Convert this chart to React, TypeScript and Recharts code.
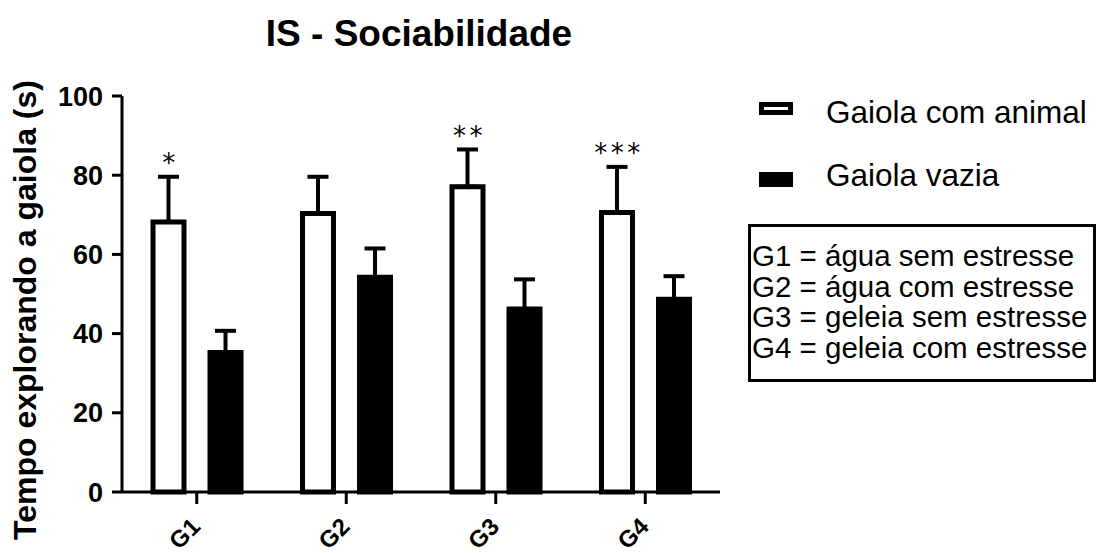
import React from 'react';
import { BarChart, Bar, XAxis, YAxis, ErrorBar, LabelList } from 'recharts';

const FONT = '"Liberation Sans", Arial, sans-serif';

const groups = ['G1', 'G2', 'G3', 'G4'];
const comAnimal = [68.2, 70.3, 77.1, 70.6];
const comAnimalSem = [11.4, 9.3, 9.4, 11.5];
const vazia = [35.2, 54.2, 46.2, 48.7];
const vaziaSem = [5.5, 7.3, 7.5, 5.8];
const stars = ['*', '', '**', '***'];
const yTicks = [0, 20, 40, 60, 80, 100];
const groupNotes = [
  'G1 = água sem estresse',
  'G2 = água com estresse',
  'G3 = geleia sem estresse',
  'G4 = geleia com estresse',
];

const data = groups.map((g, i) => ({
  group: g,
  animal: comAnimal[i],
  animalErr: [0, comAnimalSem[i]],
  vazia: vazia[i],
  vaziaErr: [0, vaziaSem[i]],
  star: stars[i],
}));

// rotated G1..G4 labels under the x axis
const GroupTick = (props: any) => {
  const { x, y, payload } = props;
  const tx = x + 5;
  const ty = y + 24;
  return (
    <text
      x={tx}
      y={ty}
      textAnchor="end"
      transform={`rotate(-45, ${tx}, ${ty})`}
      fontFamily={FONT}
      fontWeight="bold"
      fontSize={24}
      fill="#000"
    >
      {payload.value}
    </text>
  );
};

// significance stars sit a fixed distance above the error cap
const StarLabel = (props: any) => {
  const vb = props.viewBox || props;
  const { x, y, width, height } = vb;
  const i = props.index;
  const txt = stars[i];
  if (!txt) return null;
  const pxPerUnit = Math.abs(height) / comAnimal[i];
  const capY = y - comAnimalSem[i] * pxPerUnit;
  return (
    <text
      x={x + width / 2 + 2}
      y={capY - 4.7}
      textAnchor="middle"
      fontFamily='"DejaVu Sans", sans-serif'
      fontSize={26}
      letterSpacing={3.5}
      fill="#000"
    >
      {txt}
    </text>
  );
};

export default function App() {
  return (
    <div
      style={{
        position: 'absolute',
        left: 0,
        top: 0,
        width: 1096,
        height: 553,
        background: '#fff',
        fontFamily: FONT,
        color: '#000',
      }}
    >
      <BarChart
        width={1096}
        height={553}
        data={data}
        margin={{ top: 96, right: 376, bottom: 0, left: 0 }}
        barSize={31}
        barGap={26}
      >
        <XAxis
          dataKey="group"
          height={61}
          tickSize={12}
          tickMargin={0}
          axisLine={{ stroke: '#000', strokeWidth: 3 }}
          tickLine={{ stroke: '#000', strokeWidth: 3 }}
          tick={<GroupTick />}
          interval={0}
        />
        <YAxis
          domain={[0, 100]}
          ticks={yTicks}
          width={122}
          tickSize={10}
          tickMargin={9}
          interval={0}
          axisLine={{ stroke: '#000', strokeWidth: 3 }}
          tickLine={{ stroke: '#000', strokeWidth: 3 }}
          tick={{ fill: '#000', fontSize: 27, fontWeight: 'bold', fontFamily: FONT }}
        />
        <Bar dataKey="animal" fill="#fff" stroke="#000" strokeWidth={5} isAnimationActive={false}>
          <ErrorBar
            dataKey="animalErr"
            direction="y"
            width={10.5}
            strokeWidth={4}
            stroke="#000"
            isAnimationActive={false}
          />
          <LabelList dataKey="star" content={<StarLabel />} />
        </Bar>
        <Bar dataKey="vazia" fill="#000" stroke="#000" strokeWidth={5} isAnimationActive={false}>
          <ErrorBar
            dataKey="vaziaErr"
            direction="y"
            width={10.5}
            strokeWidth={4}
            stroke="#000"
            isAnimationActive={false}
          />
        </Bar>
      </BarChart>

      <div
        style={{
          position: 'absolute',
          left: 0,
          top: 15,
          width: 838,
          textAlign: 'center',
          fontSize: 37,
          lineHeight: '37px',
          fontWeight: 'bold',
        }}
      >
        IS - Sociabilidade
      </div>

      <div
        style={{
          position: 'absolute',
          left: 25 - 300,
          top: 310 - 16,
          width: 600,
          height: 32,
          lineHeight: '32px',
          fontSize: 32,
          fontWeight: 'bold',
          textAlign: 'center',
          transform: 'rotate(-90deg)',
          whiteSpace: 'nowrap',
        }}
      >
        Tempo explorando a gaiola (s)
      </div>

      {/* legend */}
      <div
        style={{
          position: 'absolute',
          left: 759,
          top: 102,
          width: 34,
          height: 13,
          border: '5px solid #000',
          boxSizing: 'border-box',
          background: '#fff',
        }}
      />
      <div style={{ position: 'absolute', left: 826, top: 97, fontSize: 31.5, lineHeight: '31px', whiteSpace: 'nowrap' }}>
        Gaiola com animal
      </div>
      <div style={{ position: 'absolute', left: 759, top: 172, width: 34, height: 15, background: '#000' }} />
      <div style={{ position: 'absolute', left: 826, top: 160, fontSize: 31.5, lineHeight: '31px', whiteSpace: 'nowrap' }}>
        Gaiola vazia
      </div>

      <div
        style={{
          position: 'absolute',
          left: 748,
          top: 224,
          width: 348,
          height: 158,
          border: '3px solid #000',
          boxSizing: 'border-box',
          paddingTop: 14,
          paddingLeft: 1,
          fontSize: 29.5,
          lineHeight: '30.5px',
          whiteSpace: 'nowrap',
          overflow: 'hidden',
        }}
      >
        {groupNotes.map((t) => (
          <div key={t}>{t}</div>
        ))}
      </div>
    </div>
  );
}
